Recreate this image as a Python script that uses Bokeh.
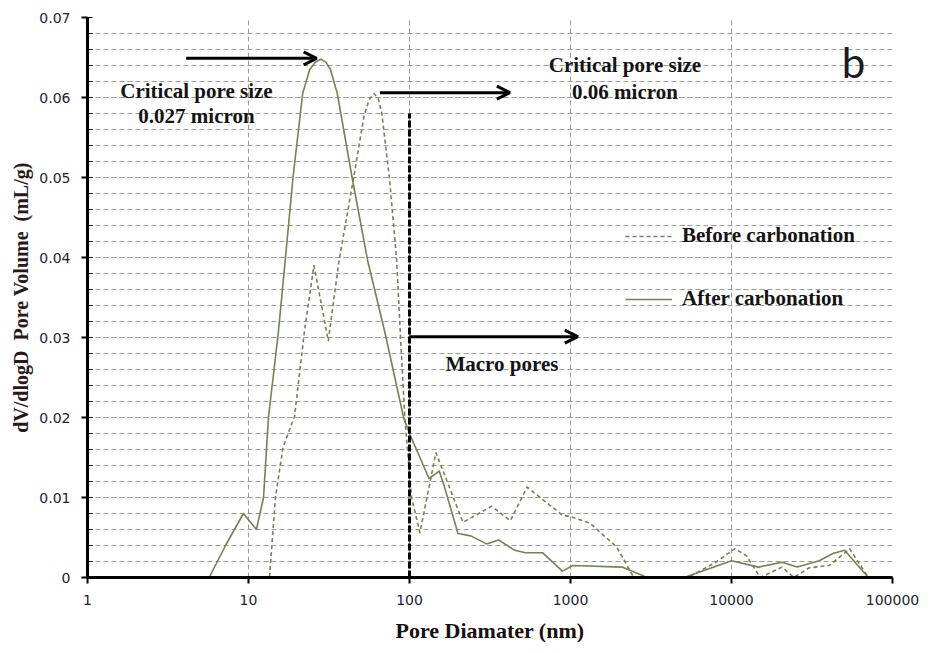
from bokeh.plotting import figure
from bokeh.models import (Arrow, OpenHead, Legend, LegendItem, FixedTicker,
                          CustomJSTickFormatter, Label, ColumnDataSource)
from bokeh.embed import file_html
from bokeh.resources import INLINE

# ---------------- data ----------------
after_d = [3.7, 5.7, 7.2, 9.3, 11.2, 12.4, 13.3, 15.3, 16.9, 18.9, 21.7, 24.0, 26.0,
           28.2, 30.3, 32.3, 35.6, 44.0, 55.0, 70.6, 91.9, 100, 132, 153, 165, 200,
           240, 301, 357, 450, 525, 670, 890, 1035, 2090, 3000, 5080, 10000, 14700,
           20600, 25600, 35100, 42600, 50400, 70800]
after_v = [0.0, 0.0, 0.004, 0.008, 0.006, 0.010, 0.020, 0.0305, 0.0396, 0.050, 0.0605,
           0.0635, 0.0644, 0.0648, 0.0644, 0.0635, 0.0605, 0.050, 0.0396, 0.0305,
           0.020, 0.018, 0.0124, 0.0133, 0.0113, 0.0055, 0.0052, 0.0042, 0.0047,
           0.0034, 0.0031, 0.0031, 0.0008, 0.0015, 0.0013, 0.0, 0.0, 0.0021, 0.0013,
           0.0019, 0.0013, 0.0021, 0.0030, 0.0034, 0.0]

before_d = [3.7, 13.5, 14.7, 16.4, 19.3, 22.3, 25.5, 31.3, 36.5, 45.0, 52.0, 56.0, 60.2,
            64.0, 67.3, 75.0, 83.0, 88.0, 93.5, 103, 116, 146, 215, 324, 423, 537, 890,
            1000, 1320, 1940, 2470, 5340, 7850, 10500, 12400, 15100, 20600, 24400,
            30300, 40500, 54200, 70800]
before_v = [0.0, 0.0, 0.010, 0.0163, 0.0201, 0.0309, 0.0390, 0.0296, 0.0396, 0.050,
            0.0575, 0.0597, 0.0605, 0.0599, 0.058, 0.050, 0.040, 0.030, 0.020, 0.010,
            0.0056, 0.0156, 0.0069, 0.0089, 0.0071, 0.0113, 0.0078, 0.0076, 0.0068,
            0.0038, 0.0, 0.0, 0.0018, 0.0036, 0.0027, 0.0, 0.0013, 0.0, 0.0012, 0.0015,
            0.0036, 0.0]

series_names = ["Before carbonation", "After carbonation"]

x_ticks = [1, 10, 100, 1000, 10000, 100000]
y_ticks = [0.0, 0.01, 0.02, 0.03, 0.04, 0.05, 0.06, 0.07]
y_minor = [round(i * 0.002, 3) for i in range(36)]

# annotations (data coordinates)
arrow_x0 = [4.1, 65.5, 100]
arrow_x1 = [26.5, 420, 1110]
arrow_y = [0.0649, 0.0606, 0.0301]
macro_line_x = [100, 100]
macro_line_y = [0.0, 0.058]
note_texts = ["Critical pore size", "0.027 micron", "Critical pore size", "0.06 micron",
              "Macro pores"]
note_x = [4.75, 4.75, 2180, 2180, 375]
note_y = [0.0608, 0.0577, 0.0641, 0.0607, 0.0267]
panel_letter = "b"
panel_x, panel_y = 57300, 0.0645

# ---------------- figure ----------------
LINE = "#71844f"
GRID = "#9a9a9a"
SERIF = "Liberation Serif"

p = figure(x_axis_type="log", x_range=(1, 100000), y_range=(0, 0.07),
           frame_width=805, frame_height=560,
           min_border_left=87, min_border_right=45, min_border_top=17,
           min_border_bottom=76, output_backend="svg", toolbar_location=None,
           background_fill_color="white", border_fill_color="white")
p.outline_line_color = None

# axes
p.xaxis.ticker = FixedTicker(ticks=x_ticks, minor_ticks=[])
p.yaxis.ticker = FixedTicker(ticks=y_ticks, minor_ticks=y_minor)
p.xaxis.formatter = CustomJSTickFormatter(code="return String(Math.round(tick));")
p.yaxis.formatter = CustomJSTickFormatter(code="return tick == 0 ? '0' : tick.toFixed(2);")

for ax in (p.xaxis[0], p.yaxis[0]):
    ax.axis_line_color = "black"
    ax.axis_line_width = 3
    ax.major_tick_line_color = "black"
    ax.major_tick_line_width = 2
    ax.major_tick_out = 6
    ax.major_tick_in = 0
    ax.major_label_text_font = "DejaVu Sans"
    ax.major_label_text_font_size = "14px"
    ax.major_label_text_color = "#1c2333"
    ax.major_label_standoff = 11
    ax.axis_label_text_font = SERIF
    ax.axis_label_text_font_style = "bold"
    ax.axis_label_text_font_size = "22px"

p.xaxis.minor_tick_line_color = None
p.yaxis.minor_tick_line_color = "black"
p.yaxis.minor_tick_line_width = 1
p.yaxis.minor_tick_in = 5
p.yaxis.minor_tick_out = 0

p.xaxis.axis_label = "Pore Diamater (nm)"
p.xaxis.axis_label_text_color = "#1a1010"
p.xaxis.axis_label_standoff = 10
p.yaxis.axis_label = "dV/dlogD\u00a0\u00a0Pore Volume\u00a0\u00a0(mL/g)"
p.yaxis.axis_label_text_color = "#2a1818"
p.yaxis.axis_label_text_font_size = "20px"
p.yaxis.axis_label_standoff = 4

# grids
p.xgrid.grid_line_color = GRID
p.xgrid.grid_line_dash = "5 3"
p.xgrid.grid_line_width = 1
p.ygrid.grid_line_color = GRID
p.ygrid.grid_line_dash = "5 3"
p.ygrid.grid_line_width = 1
p.ygrid.minor_grid_line_color = GRID
p.ygrid.minor_grid_line_dash = "5 3"
p.ygrid.minor_grid_line_width = 1

# curves
src_b = ColumnDataSource(dict(x=before_d, y=before_v))
src_a = ColumnDataSource(dict(x=after_d, y=after_v))
r_before = p.line("x", "y", source=src_b, line_color=LINE, line_width=1.6,
                  line_dash="4 3", line_join="round")
r_after = p.line("x", "y", source=src_a, line_color=LINE, line_width=1.6,
                 line_join="round")

# macro-pore boundary
p.line(macro_line_x, macro_line_y, line_color="black", line_width=3, line_dash="7 2")

# arrows
for x0, x1, y in zip(arrow_x0, arrow_x1, arrow_y):
    p.add_layout(Arrow(x_start=x0, y_start=y, x_end=x1, y_end=y, line_width=3,
                       line_color="black",
                       end=OpenHead(size=13, line_width=3, line_color="black")))

# text notes
for t, x, y in zip(note_texts, note_x, note_y):
    p.add_layout(Label(x=x, y=y, text=t, text_align="center", text_baseline="middle",
                       text_font=SERIF, text_font_style="bold", text_font_size="21px",
                       text_color="#141414"))

p.add_layout(Label(x=panel_x, y=panel_y, text=panel_letter, text_align="center",
                   text_baseline="middle", text_font="Lato", text_font_size="42px",
                   text_color="#1a1a2a"))

# legend
legend = Legend(items=[LegendItem(label=series_names[0], renderers=[r_before]),
                       LegendItem(label=series_names[1], renderers=[r_after])],
                location=(538, 266), orientation="vertical",
                background_fill_alpha=0, border_line_color=None,
                label_text_font=SERIF, label_text_font_style="bold",
                label_text_font_size="21px", label_text_color="#141414",
                glyph_width=47, glyph_height=20, label_height=20, label_standoff=10,
                spacing=38, padding=0, margin=0)
p.add_layout(legend)

open("out.html", "w").write(file_html(p, INLINE))
